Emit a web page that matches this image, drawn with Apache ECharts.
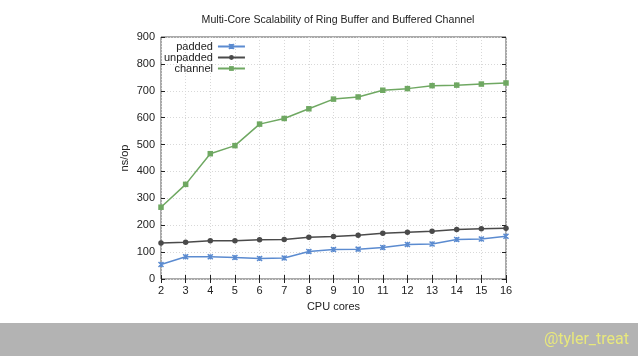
<!DOCTYPE html>
<html><head><meta charset="utf-8">
<script src="https://cdn.jsdelivr.net/npm/echarts@6/dist/echarts.min.js"></script>
<style>html,body{margin:0;padding:0;background:#fff}#c{width:638px;height:359px}</style>
</head><body><div id="c"></div>
<script>
const cores = [2,3,4,5,6,7,8,9,10,11,12,13,14,15,16];
const padded = [54,83,83,80,76,78,102,110,111,117,128,130,147,149,159];
const unpadded = [134,137,142,142,146,147,155,158,163,170,174,178,184,187,189];
const channel = [267,352,466,496,576,597,633,669,677,702,708,719,721,725,729];
const yTicks = [0,100,200,300,400,500,600,700,800,900];

const pair = arr => cores.map((c,i)=>[c,arr[i]]);
const chart = echarts.init(document.getElementById('c'), null, {renderer:'canvas'});
const font = 'Liberation Sans, Arial, sans-serif';
const xPath = 'path://M0,0L10,10M10,0L0,10M5,0L5,10';
const tickStyle = {show:true, inside:true, length:4, lineStyle:{color:'#222', width:1}};
const gridLine = {show:true, lineStyle:{color:'#d8d8d8', type:[1,2], width:1}};
chart.setOption({
  animation:false,
  backgroundColor:'#fff',
  title:{text:'Multi-Core Scalability of Ring Buffer and Buffered Channel', left:333, top:10, textAlign:'center',
    textStyle:{fontFamily:font, fontSize:10.6, fontWeight:'normal', color:'#222'}},
  grid:{left:161, right:132, top:37, bottom:80, show:true, borderColor:'#555', borderWidth:1, backgroundColor:'transparent'},
  legend:{orient:'vertical', left:159, top:36, align:'right', itemGap:0, itemWidth:27, itemHeight:6,
    textStyle:{fontFamily:font, fontSize:11, color:'#222', width:44, align:'right', lineHeight:9, padding:[0,0,0,0]},
    data:['padded','unpadded','channel']},
  xAxis:[{type:'value', min:2, max:16, interval:1, position:'bottom',
    name:'CPU cores', nameLocation:'middle', nameGap:22, nameTextStyle:{fontFamily:font, fontSize:11, color:'#222'},
    axisLine:{show:false}, axisTick:tickStyle, splitLine:gridLine,
    axisLabel:{fontFamily:font, fontSize:11, color:'#222', margin:6}},
    {type:'value', min:2, max:16, interval:1, position:'top', axisLine:{show:false}, axisTick:tickStyle,
    axisLabel:{show:false}, splitLine:{show:false}}],
  yAxis:[{type:'value', min:0, max:900, interval:100, position:'left',
    name:'ns/op', nameLocation:'middle', nameGap:31, nameMoveOverlap:false, nameRotate:90, nameTextStyle:{fontFamily:font, fontSize:11, color:'#222'},
    axisLine:{show:false}, axisTick:tickStyle, splitLine:gridLine,
    axisLabel:{fontFamily:font, fontSize:11, color:'#222', margin:6, formatter:v=>yTicks.includes(v)?String(v):''}},
    {type:'value', min:0, max:900, interval:100, position:'right', axisLine:{show:false}, axisTick:tickStyle,
    axisLabel:{show:false}, splitLine:{show:false}}],
  series:[
    {name:'padded', type:'line', data:pair(padded), symbol:xPath, symbolSize:5,
      lineStyle:{color:'#5b8bd0', width:1.5}, itemStyle:{color:'#5b8bd0', borderColor:'#5b8bd0', borderWidth:1.5}},
    {name:'unpadded', type:'line', data:pair(unpadded), symbol:'circle', symbolSize:5.5,
      lineStyle:{color:'#4a4a4a', width:1.5}, itemStyle:{color:'#4a4a4a'}},
    {name:'channel', type:'line', data:pair(channel), symbol:'rect', symbolSize:5.5,
      lineStyle:{color:'#6fa862', width:1.5}, itemStyle:{color:'#6fa862'}}
  ],
  graphic:[
    {type:'rect', shape:{x:0, y:323, width:638, height:33}, style:{fill:'#b3b3b3'}, silent:true},
    {type:'text', right:9, top:332, style:{text:'@tyler_treat', fill:'#e8e87c', font:'16px Roboto, sans-serif'}}
  ]
});
</script></body></html>
